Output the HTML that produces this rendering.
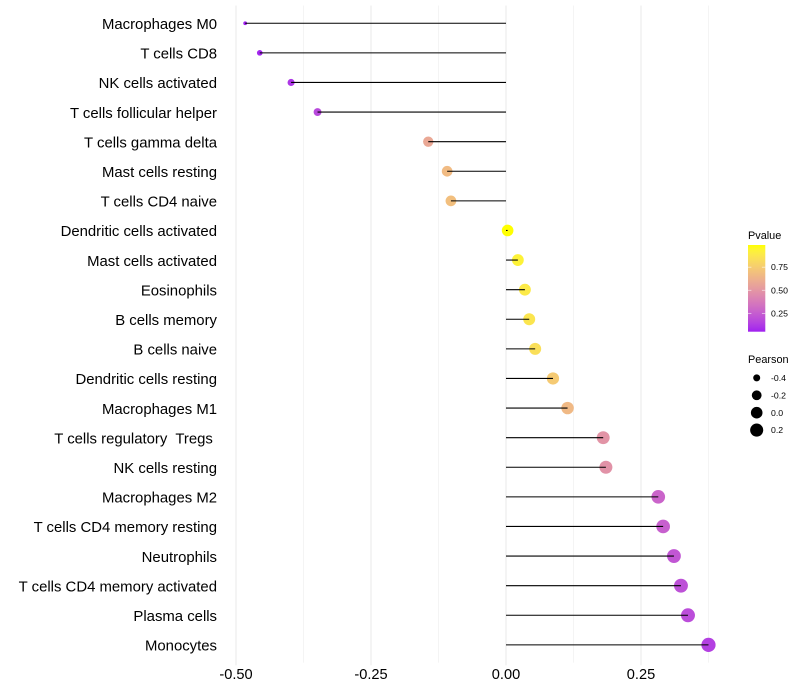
<!DOCTYPE html>
<html lang="en">
<head>
<meta charset="utf-8">
<title>Immune cell correlation lollipop chart</title>
<style>
html,body{margin:0;padding:0;background:#fff;width:800px;height:700px;overflow:hidden}
svg{display:block;font-family:"Liberation Sans",Arial,sans-serif}
</style>
</head>
<body>
<svg id="chart" xmlns="http://www.w3.org/2000/svg" width="800" height="700" viewBox="0 0 800 700">
<defs>
<linearGradient id="pgrad" x1="0" y1="1" x2="0" y2="0"></linearGradient>
</defs>
<rect x="0" y="0" width="800" height="700" fill="#ffffff"></rect>
</svg>
<script>
const cellTypes = ["Macrophages M0","T cells CD8","NK cells activated","T cells follicular helper","T cells gamma delta","Mast cells resting","T cells CD4 naive","Dendritic cells activated","Mast cells activated","Eosinophils","B cells memory","B cells naive","Dendritic cells resting","Macrophages M1","T cells regulatory  Tregs ","NK cells resting","Macrophages M2","T cells CD4 memory resting","Neutrophils","T cells CD4 memory activated","Plasma cells","Monocytes"];
const pearsonValues = [-0.483,-0.456,-0.398,-0.349,-0.144,-0.109,-0.102,0.003,0.022,0.035,0.043,0.054,0.087,0.114,0.180,0.185,0.282,0.291,0.311,0.324,0.337,0.375];
const pValues = [0.05,0.065,0.11,0.17,0.58,0.67,0.69,0.99,0.93,0.89,0.87,0.84,0.74,0.66,0.49,0.48,0.28,0.26,0.22,0.20,0.185,0.14];
const xTicks = [-0.5,-0.25,0,0.25];
const xTickLabels = ["-0.50","-0.25","0.00","0.25"];
const xMinorTicks = [-0.375,-0.125,0.125,0.375];
const pTicks = [0.25,0.5,0.75];
const pTickLabels = ["0.25","0.50","0.75"];
const pearsonBreaks = [-0.4,-0.2,0,0.2];
const pearsonBreakLabels = ["-0.4","-0.2","0.0","0.2"];

const svg = document.getElementById('chart');
const NS = 'http://www.w3.org/2000/svg';
function make(tag, attrs, text){
  const el = document.createElementNS(NS, tag);
  for (const k in attrs) el.setAttribute(k, attrs[k]);
  if (text !== undefined) { el.textContent = text; el.style.whiteSpace = 'pre'; }
  svg.appendChild(el);
  return el;
}
const panelTop = 5.5, panelBottom = 662.6;
const xScale = v => 506 + v * 540;
const yScale = i => 23.26 + i * 29.6;
const pMinV = Math.min(...pearsonValues), pMaxV = Math.max(...pearsonValues);
const radius = v => 1.9 + 5.2 * Math.sqrt(Math.max(0, (v - pMinV) / (pMaxV - pMinV)));
const pLo = Math.min(...pValues), pHi = Math.max(...pValues);

function toLab(hex){
  const c = [1,3,5].map(i => parseInt(hex.substr(i,2),16)/255).map(u => u <= 0.04045 ? u/12.92 : Math.pow((u+0.055)/1.055,2.4));
  const X = (0.4124*c[0]+0.3576*c[1]+0.1805*c[2])/0.95047, Y = 0.2126*c[0]+0.7152*c[1]+0.0722*c[2], Z = (0.0193*c[0]+0.1192*c[1]+0.9505*c[2])/1.08883;
  const f = t => t > 0.008856 ? Math.cbrt(t) : 7.787*t + 16/116;
  return [116*f(Y)-16, 500*(f(X)-f(Y)), 200*(f(Y)-f(Z))];
}
function fromLab(l){
  const fy = (l[0]+16)/116, fx = l[1]/500+fy, fz = fy-l[2]/200;
  const g = t => t*t*t > 0.008856 ? t*t*t : (t-16/116)/7.787;
  const X = g(fx)*0.95047, Y = g(fy), Z = g(fz)*1.08883;
  const lin = [3.2406*X-1.5372*Y-0.4986*Z, -0.9689*X+1.8758*Y+0.0415*Z, 0.0557*X-0.2040*Y+1.0570*Z];
  return 'rgb(' + lin.map(u => { u = Math.max(0,Math.min(1,u)); const s = u <= 0.0031308 ? 12.92*u : 1.055*Math.pow(u,1/2.4)-0.055; return Math.round(s*255); }).join(',') + ')';
}
const labLow = toLab('#a020f0'), labHigh = toLab('#ffff00');
const mixColor = t => fromLab(labLow.map((a,i) => a + (labHigh[i]-a)*t));
const pColor = p => mixColor((p - pLo) / (pHi - pLo));

/* gridlines */
xMinorTicks.forEach(v => {
  const l = make('line',{x1:xScale(v),x2:xScale(v),y1:panelTop,y2:panelBottom,stroke:'#ebebeb','stroke-width':0.55});
  
  
});
xTicks.forEach(v => {
  const l = make('line',{x1:xScale(v),x2:xScale(v),y1:panelTop,y2:panelBottom+2.7,stroke:'#ebebeb','stroke-width':1.07});
  
  
});

/* points and stems */
cellTypes.forEach((name,i) => {
  const c = make('circle',{cx:xScale(pearsonValues[i]),cy:yScale(i),r:radius(pearsonValues[i]),fill:pColor(pValues[i])});
  
  
});
cellTypes.forEach((name,i) => {
  const s = make('line',{x1:xScale(0),x2:xScale(pearsonValues[i]),y1:yScale(i),y2:yScale(i),stroke:'#000000','stroke-width':1.07});
  
  
});

/* y labels */
cellTypes.forEach((name,i) => {
  const t = make('text',{x:217,y:yScale(i)+5.7,'text-anchor':'end','font-size':14.9,fill:'#000000'},name);
  
  
});

/* x labels */
xTicks.forEach((v,i) => {
  const t = make('text',{x:xScale(v),y:679,'text-anchor':'middle','font-size':14.6,fill:'#000000'},xTickLabels[i]);
  
  
});

/* Pvalue legend */
const grad = document.getElementById('pgrad');
for (let k = 0; k <= 20; k++) {
  const st = document.createElementNS(NS,'stop');
  st.setAttribute('offset', (k/20*100)+'%');
  st.setAttribute('stop-color', mixColor(k/20));
  grad.appendChild(st);
}
const barTop = 245, barBottom = 331.7, barX = 748, barW = 17.3;
const pY = p => barBottom - (p - pLo) / (pHi - pLo) * (barBottom - barTop);
const pTitle = make('text',{x:748,y:239,'font-size':10.9,fill:'#000000'},'Pvalue');


const bar = make('rect',{x:barX,y:barTop,width:barW,height:barBottom-barTop,fill:'url(#pgrad)'});


pTicks.forEach((p,i) => {
  const a = make('line',{x1:barX,x2:barX+3.4,y1:pY(p),y2:pY(p),stroke:'#ffffff','stroke-width':0.55});
  
  
  const b = make('line',{x1:barX+barW-3.4,x2:barX+barW,y1:pY(p),y2:pY(p),stroke:'#ffffff','stroke-width':0.55});
  
  
  const t = make('text',{x:771,y:pY(p)+3.1,'font-size':8.7,fill:'#000000'},pTickLabels[i]);
  
  
});

/* Pearson legend */
const sTitle = make('text',{x:748,y:363,'font-size':10.9,fill:'#000000'},'Pearson');


pearsonBreaks.forEach((v,i) => {
  const y = 377.9 + i * 17.4;
  const c = make('circle',{cx:756.7,cy:y,r:radius(v),fill:'#000000'});
  
  
  const t = make('text',{x:771,y:y+3.1,'font-size':8.7,fill:'#000000'},pearsonBreakLabels[i]);
  
  
});
</script>
</body>
</html>
